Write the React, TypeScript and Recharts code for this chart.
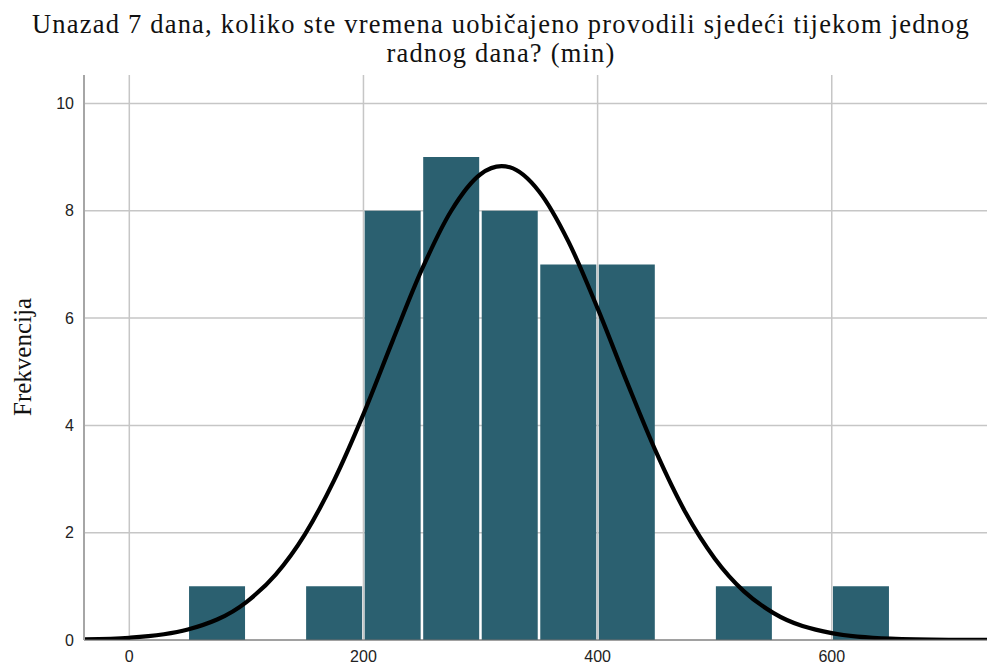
import React from "react";
import {
  ComposedChart,
  Bar,
  Line,
  XAxis,
  YAxis,
  CartesianGrid,
} from "recharts";

// Histogram bins (bin centre in minutes, bin width 50) and frequencies
const binCenters = [75, 125, 175, 225, 275, 325, 375, 425, 475, 525, 575, 625];
const binCounts = [1, 0, 1, 8, 9, 8, 7, 7, 0, 1, 0, 1];

// Normal curve points
const curveX = [-38, 0, 50, 100, 125, 150, 175, 200, 225, 250, 275, 300, 318, 325, 350, 375, 400, 425, 450, 475, 500, 525, 550, 600, 650, 700, 733];
const curveY = [0.011, 0.041, 0.194, 0.707, 1.22, 1.97, 2.98, 4.21, 5.58, 6.91, 8.0, 8.68, 8.83, 8.81, 8.36, 7.43, 6.18, 4.81, 3.5, 2.38, 1.52, 0.906, 0.506, 0.129, 0.025, 0.004, 0.001];

const xTicks = [0, 200, 400, 600];
const yTicks = [0, 2, 4, 6, 8, 10];

const titleLines = [
  "Unazad 7 dana, koliko ste vremena uobičajeno provodili sjedeći tijekom jednog",
  "radnog dana? (min)",
];
const yLabel = "Frekvencija";

const histData = binCenters.map((x, i) => ({ x, count: binCounts[i] }));
const curveData = curveX.map((x, i) => ({ x, y: curveY[i] }));

const X_DOMAIN: [number, number] = [-38.7, 732.6];
const Y_DOMAIN: [number, number] = [0, 10.53];

const tickStyle = { fontFamily: "Liberation Sans, Arial, sans-serif", fontSize: 16, fill: "#222" };

export default function App() {
  return (
    <div style={{ position: "fixed", left: 0, top: 0, width: 987, height: 666, overflow: "hidden", background: "#fff" }}>
      <ComposedChart
        width={987}
        height={666}
        data={histData}
        margin={{ top: 75, right: 0, bottom: 0, left: 0 }}
        barCategoryGap={1.2}
        barGap={0}
      >
        <CartesianGrid
          stroke="#c6c6c6"
          strokeWidth={1.5}
          horizontalValues={yTicks}
          verticalValues={xTicks}
        />
        <XAxis
          xAxisId={0}
          dataKey="x"
          type="number"
          domain={X_DOMAIN}
          allowDataOverflow
          ticks={xTicks}
          height={26}
          tickLine={false}
          tickSize={0}
          tickMargin={11}
          axisLine={{ stroke: "#6f6f6f", strokeWidth: 1.2 }}
          tick={tickStyle}
        />
        <XAxis
          xAxisId="curve"
          dataKey="x"
          type="number"
          domain={X_DOMAIN}
          allowDataOverflow
          hide
        />
        <YAxis
          type="number"
          domain={Y_DOMAIN}
          allowDataOverflow
          ticks={yTicks}
          width={84}
          tickLine={false}
          tickSize={0}
          tickMargin={10}
          axisLine={{ stroke: "#a6a6a6", strokeWidth: 2 }}
          tick={tickStyle}
        />
        <Bar
          xAxisId={0}
          dataKey="count"
          fill="#2b6070"
          isAnimationActive={false}
        />
        <Line
          xAxisId="curve"
          data={curveData}
          dataKey="y"
          type="monotone"
          stroke="#000"
          strokeWidth={4.2}
          dot={false}
          activeDot={false}
          isAnimationActive={false}
        />
      </ComposedChart>
      <svg
        width={987}
        height={666}
        style={{ position: "absolute", left: 0, top: 0, pointerEvents: "none" }}
      >
        {titleLines.map((t, i) => (
          <text
            key={i}
            x={501}
            y={32.5 + i * 29.5}
            textAnchor="middle"
            fontFamily="Liberation Serif, Times New Roman, serif"
            fontSize={26.5}
            letterSpacing={1.2}
            fill="#111"
          >
            {t}
          </text>
        ))}
        <text
          x={31}
          y={357}
          textAnchor="middle"
          transform="rotate(-90 31 357)"
          fontFamily="Liberation Serif, Times New Roman, serif"
          fontSize={25}
          fill="#111"
        >
          {yLabel}
        </text>
      </svg>
    </div>
  );
}
